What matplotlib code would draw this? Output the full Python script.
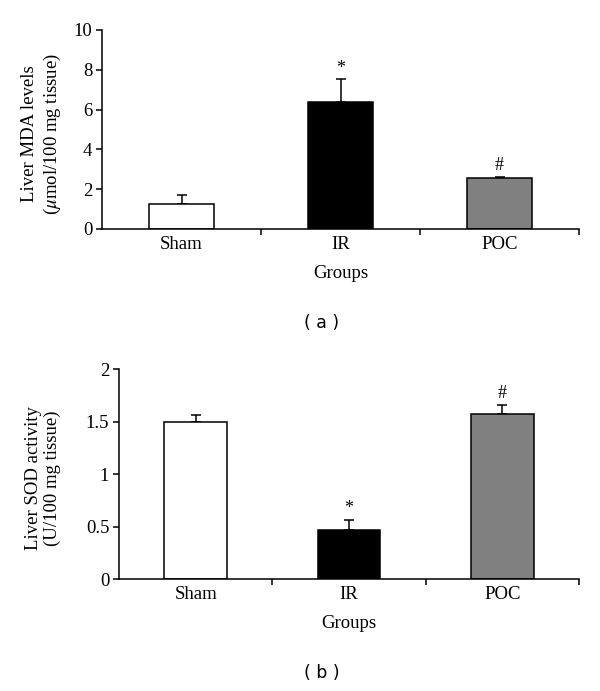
import matplotlib
matplotlib.use("Agg")
import matplotlib.pyplot as plt

plt.rcParams['font.family'] = ['Liberation Serif', 'DejaVu Serif']
plt.rcParams['mathtext.fontset'] = 'stix'

groups = ['Sham', 'IR', 'POC']
colors = ['white', 'black', '#808080']
marks = ['', '*', '#']

mda_mean = [1.24, 6.40, 2.55]
mda_err = [0.45, 1.12, 0.08]

sod_mean = [1.50, 0.47, 1.575]
sod_err = [0.065, 0.095, 0.083]

fig = plt.figure(figsize=(6, 6.91), dpi=100)
W, H = 600, 691


def px_axes(left, top, right, bottom):
    return fig.add_axes([left / W, 1 - bottom / H, (right - left) / W, (bottom - top) / H])


def draw_panel(ax, means, errs, ymax, yticks, yticklabels, ylabel, ylab_x, tag, tag_y):
    x = list(range(len(groups)))
    ax.bar(x, means, width=0.41, color=colors, edgecolor='black', linewidth=1.1, zorder=2)
    ax.errorbar(x, means, yerr=[[0] * len(errs), errs], fmt='none', ecolor='black',
                elinewidth=1.1, capsize=3.5, capthick=1.1, zorder=1)
    for xi, m, e, s in zip(x, means, errs, marks):
        if s:
            ax.annotate(s, (xi, m + e), xytext=(0, 2), textcoords='offset points',
                        ha='center', va='bottom', fontsize=13)
    ax.set_xlim(-0.5, 2.5)
    ax.set_ylim(0, ymax)
    ax.set_yticks(yticks)
    ax.set_yticklabels(yticklabels)
    ax.set_xticks(x)
    ax.set_xticklabels(groups)
    ax.set_xticks([0.5, 1.5, 2.5], minor=True)
    ax.tick_params(axis='x', which='major', length=0, pad=5, labelsize=13.5)
    ax.tick_params(axis='x', which='minor', length=4, width=1.1, direction='out')
    ax.tick_params(axis='y', length=4, width=1.1, direction='out', pad=3, labelsize=13.5)
    for side in ['top', 'right']:
        ax.spines[side].set_visible(False)
    for side in ['left', 'bottom']:
        ax.spines[side].set_linewidth(1.1)
    ax.set_xlabel('Groups', fontsize=13.5, labelpad=9)
    box = ax.get_position()
    fig.text(ylab_x / W, (box.y0 + box.y1) / 2 - 4 / H, ylabel, rotation=90, ha='center',
             va='center', fontsize=13.5, linespacing=1.2)
    fig.text(322 / W, 1 - tag_y / H, tag, ha='center', va='center', fontsize=12.5,
             family='DejaVu Sans')


ax1 = px_axes(102, 30, 579, 229)
draw_panel(ax1, mda_mean, mda_err, 10, [0, 2, 4, 6, 8, 10],
           ['0', '2', '4', '6', '8', '10'],
           'Liver MDA levels\n($\\mu$mol/100 mg tissue)', 42, '( a )', 323)

ax2 = px_axes(119, 369, 579, 579)
draw_panel(ax2, sod_mean, sod_err, 2, [0, 0.5, 1, 1.5, 2],
           ['0', '0.5', '1', '1.5', '2'],
           'Liver SOD activity\n(U/100 mg tissue)', 43, '( b )', 673)

fig.savefig('out.png', dpi=100)
